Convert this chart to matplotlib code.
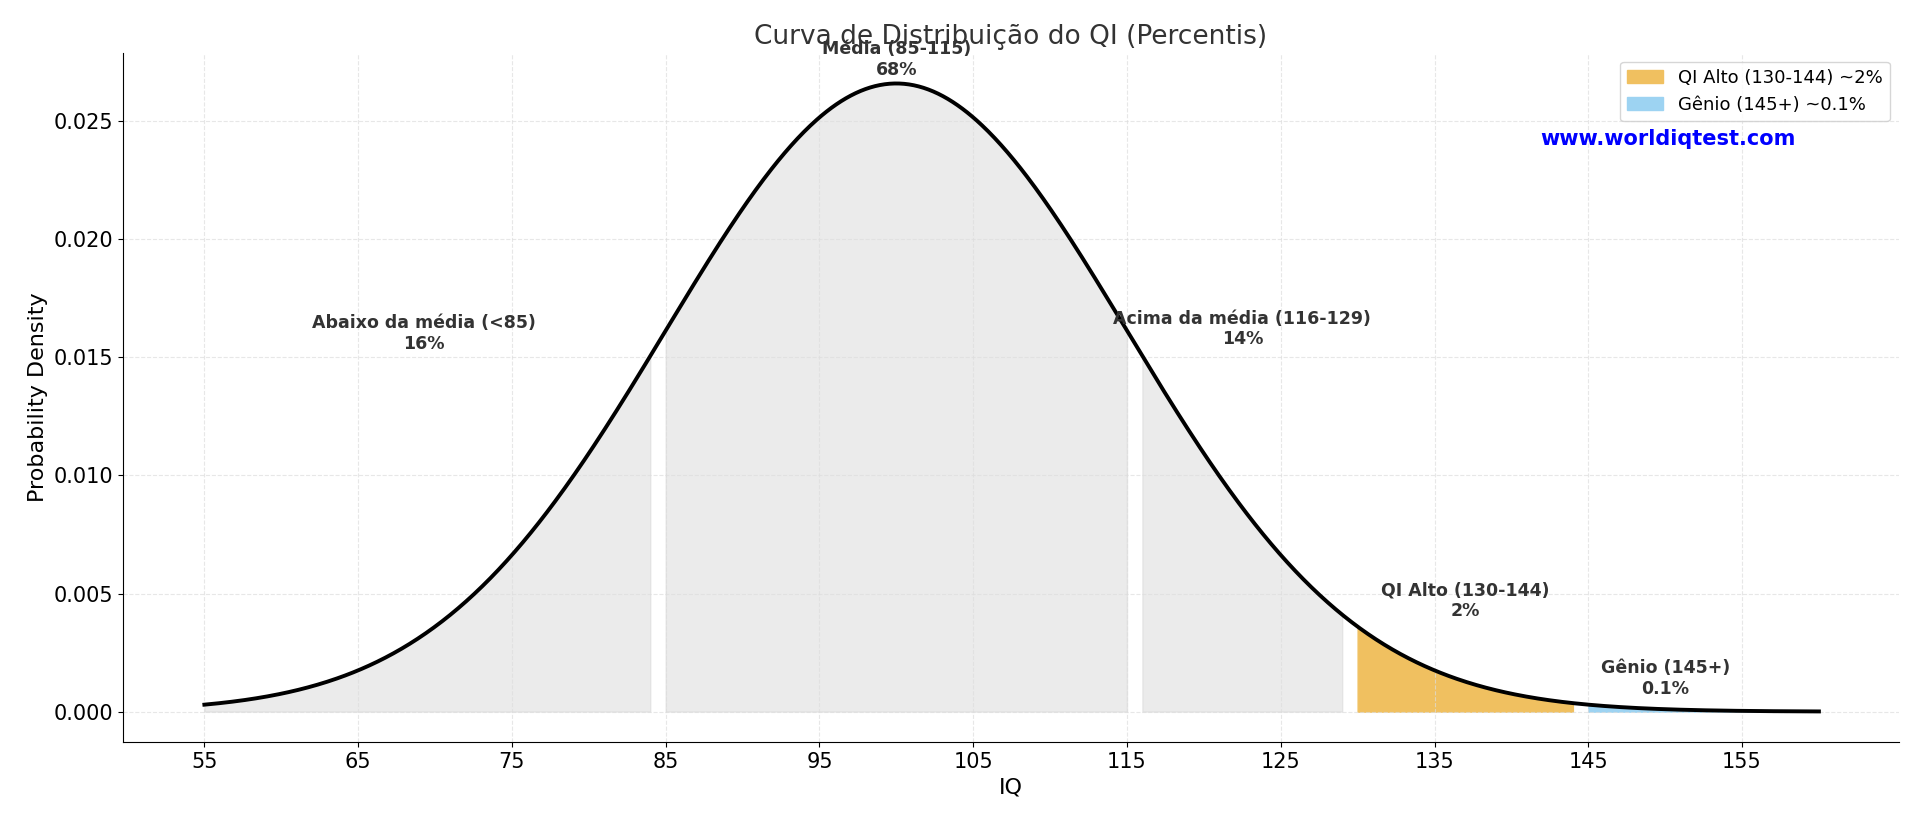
import numpy as np
import matplotlib.pyplot as plt

mean, sd = 100, 15
x_start, x_end = 55, 160
gray_ranges = [(55, 84), (85, 115), (116, 129)]
high_range = (130, 144)
genius_range = (145, 160)
labels = [(69.3, 0.016, 'Abaixo da média (<85)\n16%'),
          (100, 0.0276, 'Média (85-115)\n68%'),
          (122.5, 0.0162, 'Acima da média (116-129)\n14%'),
          (137, 0.0047, 'QI Alto (130-144)\n2%'),
          (150, 0.0014, 'Gênio (145+)\n0.1%')]
xticks = np.arange(55, 160, 10)


def pdf(v):
    return np.exp(-0.5 * ((v - mean) / sd) ** 2) / (sd * np.sqrt(2 * np.pi))


x = np.linspace(x_start, x_end, 1000)

fig = plt.figure(figsize=(19.2, 8.23), dpi=100)
ax = fig.add_axes([0.064, 0.098, 0.925, 0.838])

for a, b in gray_ranges:
    xs = np.linspace(a, b, 200)
    ax.fill_between(xs, pdf(xs), color='lightgray', alpha=0.45)
xs = np.linspace(*high_range, 200)
ax.fill_between(xs, pdf(xs), color='#f0c060', label='QI Alto (130-144) ~2%')
xs = np.linspace(*genius_range, 200)
ax.fill_between(xs, pdf(xs), color='#9dd3f2', label='Gênio (145+) ~0.1%')
ax.plot(x, pdf(x), color='black', lw=2.8)

for tx, ty, t in labels:
    ax.text(tx, ty, t, ha='center', va='center', fontsize=12.5,
            fontweight='bold', color='#333333')
ax.text(0.87, 0.875, 'www.worldiqtest.com', transform=ax.transAxes,
        ha='center', va='center', color='blue', fontsize=15, fontweight='bold')

ax.set_xlim(49.7, 165.2)
ax.set_ylim(-0.0013, 0.0279)
ax.set_xticks(xticks)
ax.tick_params(labelsize=15)
ax.grid(True, ls='--', color='#dddddd', alpha=0.7)
ax.spines['top'].set_visible(False)
ax.spines['right'].set_visible(False)
ax.set_title('Curva de Distribuição do QI (Percentis)', fontsize=19, color='#333333')
ax.set_xlabel('IQ', fontsize=16)
ax.set_ylabel('Probability Density', fontsize=16)
ax.legend(loc='upper right', fontsize=13)

fig.savefig('out.png')
